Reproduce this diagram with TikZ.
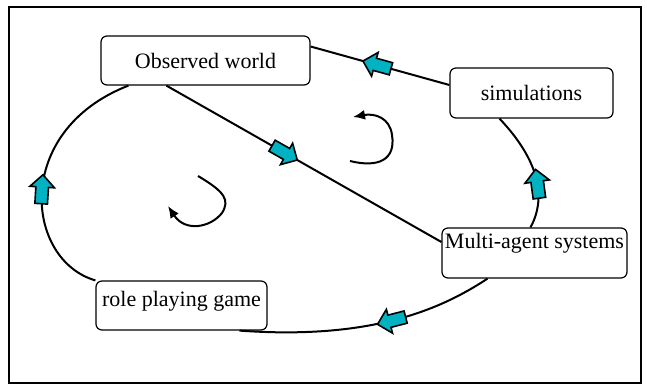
\documentclass[tikz,border=0pt]{standalone}
\usepackage{fontspec}
\setmainfont{Liberation Serif}
\usetikzlibrary{arrows.meta,shapes.arrows}
\definecolor{arrowfill}{HTML}{00B2C2}

\begin{document}
\begin{tikzpicture}[x=0.5pt,y=-0.5pt,font=\fontsize{11}{13}\selectfont,
      box/.style={draw,rounded corners=3pt,line width=0.6pt,inner sep=0pt},
      link/.style={line width=1pt},
      blockarrow/.style={single arrow,draw,fill=arrowfill,line width=0.8pt,inner xsep=0pt,inner ysep=2.75pt,
        minimum width=11.5pt,minimum height=14.5pt,single arrow head extend=3pt,
        sloped,allow upside down}]
    \useasboundingbox (0,0) rectangle (647,386);
    \draw[line width=1pt] (9,7) rectangle (641,383);
    \node[box,minimum width=104.5pt,minimum height=24.5pt] (obs) at (205.5,60.5) {Observed world};
    \node[box,minimum width=81.5pt,minimum height=25pt] (sim) at (531.5,93) {simulations};
    \node[box,minimum width=92.5pt,minimum height=25pt,text depth=12pt] (mas) at (534.5,253) {Multi-agent systems};
    \node[box,minimum width=85.5pt,minimum height=24.5pt,text depth=7pt] (rpg) at (181.5,305.5) {role playing game};
    \draw[link] ([yshift=4pt]sim.west) -- ([yshift=7pt]obs.east) node[blockarrow,pos=0.5]{};
    \draw[link] (rpg.north west) .. controls (25,260) and (12,131) .. ([xshift=14pt]obs.south west) node[blockarrow,pos=0.5]{};
    \draw[link] ([xshift=33pt]obs.south west) -- ([yshift=5.5pt]mas.west) node[blockarrow,pos=0.42]{};
    \draw[link] ([xshift=-23.5pt]mas.south) .. controls (440,310) and (370,340) .. ([xshift=29pt]rpg.south) node[blockarrow,pos=0.5]{};
    \draw[link] ([xshift=-2pt]mas.north) .. controls (540,210) and (551,173) .. ([xshift=-16pt]sim.south) node[blockarrow,pos=0.5]{};
    \draw[link,-{Latex[length=6pt,width=5pt]}] (350,161) .. controls (378,168) and (396,160) .. (392,135) .. controls (390,118) and (375,113) .. (353,117);
    \draw[link,-{Latex[length=6pt,width=5pt]}] (198,176) .. controls (225,192) and (230,200) .. (222,213) .. controls (210,228) and (185,232) .. (168,206);
  \end{tikzpicture}
\end{document}
